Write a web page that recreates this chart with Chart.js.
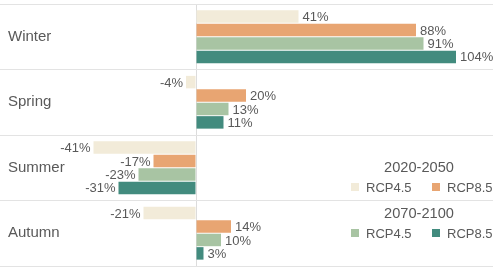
<!DOCTYPE html>
<html>
<head>
<meta charset="utf-8">
<script src="https://cdn.jsdelivr.net/npm/chart.js@4/dist/chart.umd.min.js"></script>
<style>
  html, body { margin: 0; padding: 0; background: #fff; }
  #wrap { position: relative; width: 500px; height: 271px; }
</style>
</head>
<body>
<div id="wrap"><canvas id="seasonChart" width="500" height="271"></canvas></div>
<script>
// Seasonal change per scenario (%)
const seasons = ['Winter', 'Spring', 'Summer', 'Autumn'];
const periods = ['2020-2050', '2070-2100'];
const scenarios = ['RCP4.5', 'RCP8.5'];
const near45 = [41, -4, -41, -21];
const near85 = [88, 20, -17, 14];
const far45 = [91, 13, -23, 10];
const far85 = [104, 11, -31, 3];

const colors = ['#f2ebd9', '#e8a572', '#a8c4a3', '#428b7e'];
const textColor = '#595959';
const font = '"Liberation Sans", Arial, sans-serif';

const seriesData = [near45, near85, far45, far85];

// value labels at the end of each bar
const barLabels = {
  id: 'barLabels',
  afterDatasetsDraw(chart) {
    const ctx = chart.ctx;
    ctx.save();
    ctx.font = '13px ' + font;
    ctx.fillStyle = textColor;
    ctx.textBaseline = 'middle';
    chart.data.datasets.forEach((ds, i) => {
      const meta = chart.getDatasetMeta(i);
      meta.data.forEach((bar, j) => {
        const v = ds.data[j];
        if (v >= 0) {
          ctx.textAlign = 'left';
          ctx.fillText(v + '%', bar.x + 4, bar.y + 1);
        } else {
          ctx.textAlign = 'right';
          ctx.fillText(v + '%', bar.x - 3, bar.y + 1);
        }
      });
    });
    ctx.restore();
  }
};

// grouped legend: period title with two scenario swatches below
const groupLegend = {
  id: 'groupLegend',
  afterDraw(chart) {
    const ctx = chart.ctx;
    ctx.save();
    ctx.textBaseline = 'middle';
    const tops = [168, 214];
    periods.forEach((p, g) => {
      ctx.font = '14.6px ' + font;
      ctx.textAlign = 'center';
      ctx.fillStyle = textColor;
      ctx.fillText(p, 419, tops[g]);
      ctx.font = '13px ' + font;
      ctx.textAlign = 'left';
      scenarios.forEach((s, k) => {
        const x = k === 0 ? 351 : 432;
        const y = tops[g] + 19;
        ctx.fillStyle = colors[g * 2 + k];
        ctx.fillRect(x, y - 4, 8, 8);
        ctx.fillStyle = textColor;
        ctx.fillText(s, x + 15, y + 1);
      });
    });
    ctx.restore();
  }
};

new Chart(document.getElementById('seasonChart'), {
  type: 'bar',
  data: {
    labels: seasons,
    datasets: seriesData.map((d, i) => ({
      label: periods[Math.floor(i / 2)] + ' ' + scenarios[i % 2],
      data: d,
      backgroundColor: colors[i],
      borderWidth: 0,
      barPercentage: 0.93,
      categoryPercentage: 0.82
    }))
  },
  options: {
    indexAxis: 'y',
    responsive: false,
    animation: false,
    layout: { padding: { left: 0, right: 7, top: 4, bottom: 5 } },
    plugins: {
      legend: { display: false },
      tooltip: { enabled: false }
    },
    scales: {
      x: {
        min: -78.4,
        max: 118.8,
        ticks: { display: false },
        border: { display: false },
        grid: {
          drawTicks: false,
          color: c => c.tick && c.tick.value === 0 ? '#dcdcdc' : 'rgba(0,0,0,0)'
        },
        afterFit: s => { s.height = 0; s.paddingLeft = 0; s.paddingRight = 0; }
      },
      y: {
        border: { display: false },
        grid: { color: '#e3e3e3', drawTicks: false, offset: true },
        ticks: {
          mirror: true,
          padding: 8,
          color: textColor,
          font: { family: font, size: 15 }
        },
        afterFit: s => { s.width = 0; s.paddingTop = 0; s.paddingBottom = 0; }
      }
    }
  },
  plugins: [barLabels, groupLegend]
});
</script>
</body>
</html>
